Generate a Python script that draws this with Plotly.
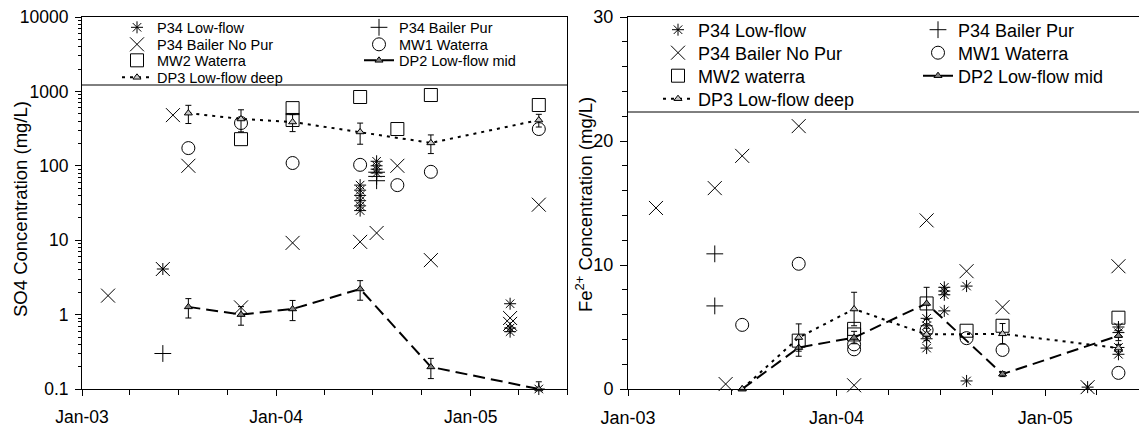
import plotly.graph_objects as go

# ---------------- shared sampling dates ----------------
feb03 = "2003-02-19"
jun03a = "2003-06-02"
jun03b = "2003-06-21"
jul03 = "2003-07-20"
oct03 = "2003-10-27"
feb04 = "2004-02-01"
jun04 = "2004-06-07"
jul04 = "2004-07-08"
aug04 = "2004-08-16"
oct04 = "2004-10-18"
mar05 = "2005-03-16"
may05 = "2005-05-09"

series_names_left = ["P34 Low-flow", "P34 Bailer Pur", "P34 Bailer No Pur", "MW1 Waterra",
                     "MW2 Waterra", "DP2 Low-flow mid", "DP3 Low-flow deep"]
series_names_right = ["P34 Low-flow", "P34 Bailer Pur", "P34 Bailer No Pur", "MW1 Waterra",
                      "MW2 waterra", "DP2 Low-flow mid", "DP3 Low-flow deep"]

# ---------------- SO4 (left panel) ----------------
so4_lowflow_x = [jun03a, jun04, jun04, jun04, jun04, jun04, jun04, jul04, jul04, jul04, jul04,
                 mar05, mar05, mar05, may05]
so4_lowflow_y = [4.1, 55, 47, 40, 34, 29, 25, 115, 100, 90, 80, 1.4, 0.66, 0.59, 0.1]

so4_bailpur_x = [jun03a, jul04, jul04, jul04]
so4_bailpur_y = [0.3, 82, 72, 63]

so4_bailnopur_x = [feb03, jun03a, jun03b, jul03, oct03, feb04, jun04, jul04, aug04, oct04, mar05, mar05, may05]
so4_bailnopur_y = [1.8, 4.1, 480, 100, 1.25, 9.2, 9.5, 12.5, 100, 5.4, 0.9, 0.75, 30]

so4_mw1_x = [jul03, oct03, feb04, jun04, aug04, oct04, may05]
so4_mw1_y = [173, 376, 109, 103, 55, 83, 312]

so4_mw2_x = [oct03, feb04, feb04, jun04, aug04, oct04, may05]
so4_mw2_y = [228, 596, 413, 841, 312, 894, 656]

dp_x = [jul03, oct03, feb04, jun04, oct04, may05]
so4_dp3_y = [510, 426, 388, 285, 203, 412]
so4_dp3_err = [140, 140, 100, 90, 57, 80]
so4_dp2_y = [1.27, 1.0, 1.19, 2.21, 0.198, 0.1]
so4_dp2_err = [0.37, 0.28, 0.36, 0.65, 0.06, 0.025]

# ---------------- Fe2+ (right panel) ----------------
fe_lowflow_x = [jun04, jun04, jun04, jun04, jun04, jul04, jul04, jul04, jul04, aug04, aug04,
                mar05, may05, may05, may05, may05]
fe_lowflow_y = [5.7, 5.1, 4.45, 4.05, 3.3, 8.2, 7.9, 7.6, 6.3, 8.3, 0.65, 0.15, 5.0, 4.55, 3.35, 2.8]

fe_bailpur_x = [jun03a, jun03a]
fe_bailpur_y = [10.9, 6.7]

fe_bailnopur_x = [feb03, jun03a, jun03b, jul03, oct03, feb04, jun04, aug04, oct04, mar05, may05]
fe_bailnopur_y = [14.6, 16.2, 0.4, 18.8, 21.2, 0.3, 13.6, 9.5, 6.6, 0.15, 9.9]

fe_mw1_x = [jul03, oct03, feb04, feb04, jun04, aug04, oct04, may05]
fe_mw1_y = [5.17, 10.1, 3.6, 3.2, 4.75, 4.1, 3.15, 1.3]

fe_mw2_x = [oct03, feb04, feb04, jun04, aug04, oct04, may05]
fe_mw2_y = [3.9, 4.85, 4.4, 6.9, 4.7, 5.1, 5.75]

fe_dp3_y = [0, 4.15, 6.45, 4.4, 4.45, 3.3]
fe_dp3_err = [0, 1.1, 1.35, 0.5, 0.83, 0.3]
fe_dp2_y = [0, 3.34, 4.15, 6.9, 1.2, 4.3]
fe_dp2_err = [0, 0.7, 0.5, 1.3, 0.2, 0.4]

# ---------------- geometry (pixels) ----------------
W, H = 1139, 428
TOP, BOT = 17, 389
PH = BOT - TOP


def py(ypx):
    return (BOT - ypx) / PH


FONT = "Liberation Sans, Arial, sans-serif"

styles = [
    dict(mode="markers", marker=dict(symbol="asterisk-open", size=10, color="black", line=dict(width=1, color="black"))),
    dict(mode="markers", marker=dict(symbol="cross-thin-open", size=12, color="black", line=dict(width=1, color="black"))),
    dict(mode="markers", marker=dict(symbol="x-thin-open", size=14, color="black", line=dict(width=1, color="black"))),
    dict(mode="markers", marker=dict(symbol="circle-open", size=13, color="black", line=dict(width=1, color="black"))),
    dict(mode="markers", marker=dict(symbol="square-open", size=13, color="black", line=dict(width=1, color="black"))),
    dict(mode="lines+markers", line=dict(color="black", width=2, dash="12px,6px"),
         marker=dict(symbol="triangle-up", size=7, color="#808080", line=dict(width=1, color="black"))),
    dict(mode="lines+markers", line=dict(color="black", width=2, dash="3px,5px"),
         marker=dict(symbol="triangle-up", size=7, color="#c8c8c8", line=dict(width=1, color="black"))),
]

left_data = [
    (so4_lowflow_x, so4_lowflow_y, None),
    (so4_bailpur_x, so4_bailpur_y, None),
    (so4_bailnopur_x, so4_bailnopur_y, None),
    (so4_mw1_x, so4_mw1_y, None),
    (so4_mw2_x, so4_mw2_y, None),
    (dp_x, so4_dp2_y, so4_dp2_err),
    (dp_x, so4_dp3_y, so4_dp3_err),
]
right_data = [
    (fe_lowflow_x, fe_lowflow_y, None),
    (fe_bailpur_x, fe_bailpur_y, None),
    (fe_bailnopur_x, fe_bailnopur_y, None),
    (fe_mw1_x, fe_mw1_y, None),
    (fe_mw2_x, fe_mw2_y, None),
    (dp_x, fe_dp2_y, fe_dp2_err),
    (dp_x, fe_dp3_y, fe_dp3_err),
]

# legend slot positions: (legend left x px, row centre y px)
left_cols = [117, 359]
left_rows = [27.4, 44.4, 60.4, 77.4]
right_cols = [658, 918]
right_rows = [30, 53, 76, 99]
slot_order = [(0, 0), (1, 0), (0, 1), (1, 1), (0, 2), (1, 2), (0, 3)]

fig = go.Figure()
legend_layouts = {}
n = 0
for panel, data, names, cols, rows, xa, ya, fsize in [
    ("L", left_data, series_names_left, left_cols, left_rows, "x", "y", 14.5),
    ("R", right_data, series_names_right, right_cols, right_rows, "x2", "y2", 18),
]:
    for i, ((xs, ys, err), name) in enumerate(zip(data, names)):
        n += 1
        lname = "legend" if n == 1 else f"legend{n}"
        kw = dict(styles[i])
        if err is not None:
            kw["error_y"] = dict(type="data", array=err, visible=True, color="black", thickness=1, width=3)
        fig.add_trace(go.Scatter(x=xs, y=ys, name=name, xaxis=xa, yaxis=ya, legend=lname,
                                 showlegend=True, cliponaxis=False, **kw))
        c, r = slot_order[i]
        legend_layouts[lname] = dict(
            x=cols[c] / W, y=py(rows[r]), xanchor="left", yanchor="middle",
            orientation="v", bgcolor="rgba(0,0,0,0)", borderwidth=0, visible=True,
            font=dict(family=FONT, size=fsize, color="black"),
        )

# minor ticks
quarters = []
for yr in (2003, 2004, 2005):
    for m in ("01", "04", "07", "10"):
        quarters.append(f"{yr}-{m}-01")
log_minor = [m * 10 ** e for e in range(-1, 4) for m in range(2, 10)]

axis_common = dict(showline=True, linecolor="black", linewidth=1, showgrid=False, zeroline=False,
                   ticks="outside", tickcolor="black", tickwidth=1)

fig.update_layout(
    width=W, height=H,
    showlegend=True,
    margin=dict(l=0, r=0, t=TOP, b=H - BOT, autoexpand=False),
    paper_bgcolor="white", plot_bgcolor="white",
    font=dict(family=FONT, color="black"),
    xaxis=dict(domain=[82 / W, 567 / W], type="date", range=["2003-01-01", "2005-07-01"],
               tickmode="array", tickvals=["2003-01-01", "2004-01-01", "2005-01-01"],
               ticktext=["Jan-03", "Jan-04", "Jan-05"], ticklen=6, mirror=True,
               tickfont=dict(size=17.5), ticklabelstandoff=6,
               minor=dict(tickmode="array", tickvals=quarters, ticks="outside", ticklen=5,
                          tickcolor="black", showgrid=False),
               anchor="y", **axis_common),
    yaxis=dict(domain=[0, 1], type="log", range=[-1, 4], tickmode="array",
               tickvals=[0.1, 1, 10, 100, 1000, 10000],
               ticktext=["0.1", "1", "10", "100", "1000", "10000"], ticklen=6, mirror=True,
               tickfont=dict(size=17.5), ticklabelstandoff=3,
               minor=dict(tickmode="array", tickvals=log_minor, ticks="outside", ticklen=3,
                          tickcolor="black", showgrid=False),
               anchor="x", **axis_common),
    xaxis2=dict(domain=[628 / W, 1], type="date", range=["2003-01-01", "2005-06-14"],
                tickmode="array", tickvals=["2003-01-01", "2004-01-01", "2005-01-01"],
                ticktext=["Jan-03", "Jan-04", "Jan-05"], ticklen=6, mirror=True,
                tickfont=dict(size=18), ticklabelstandoff=6,
                minor=dict(tickmode="array", tickvals=quarters, ticks="outside", ticklen=5,
                           tickcolor="black", showgrid=False),
                anchor="y2", **axis_common),
    yaxis2=dict(domain=[0, 1], range=[0, 30], tickmode="array", tickvals=[0, 10, 20, 30],
                ticklen=7, tickfont=dict(size=18), ticklabelstandoff=3,
                minor=dict(tickmode="array", tickvals=[v for v in range(2, 30, 2) if v % 10],
                           ticks="outside", ticklen=5, tickcolor="black", showgrid=False),
                anchor="x2", **axis_common),
    shapes=[
        dict(type="line", xref="x domain", yref="paper", x0=0, x1=1, y0=py(85), y1=py(85),
             line=dict(color="black", width=1)),
        dict(type="line", xref="x2 domain", yref="paper", x0=0, x1=1, y0=py(112), y1=py(112),
             line=dict(color="black", width=1)),
    ],
    annotations=[
        dict(text="SO4 Concentration (mg/L)", x=20 / W, y=py(209), xref="paper", yref="paper",
             textangle=-90, showarrow=False, xanchor="center", yanchor="middle",
             font=dict(size=18.5, family=FONT, color="black")),
        dict(text="Fe<sup>2+</sup> Concentration (mg/L)", x=584 / W, y=py(205), xref="paper", yref="paper",
             textangle=-90, showarrow=False, xanchor="center", yanchor="middle",
             font=dict(size=18.5, family=FONT, color="black")),
    ],
    **legend_layouts,
)

fig.write_html("out.html")
